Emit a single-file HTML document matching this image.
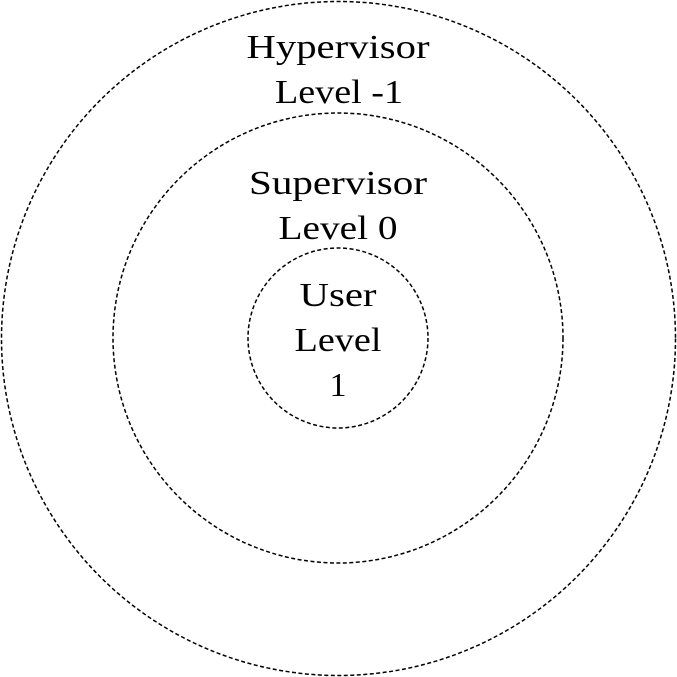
<!DOCTYPE html>
<html><head><meta charset="utf-8"><style>
html,body{margin:0;padding:0;background:#fff;width:677px;height:677px;overflow:hidden}
text{font-family:"Liberation Serif",serif;font-size:34px;fill:#000}
</style></head><body>
<svg width="677" height="677" viewBox="0 0 677 677">
<circle cx="338.5" cy="338.5" r="337" fill="none" stroke="#000" stroke-width="1.5" stroke-dasharray="4,2.5"/>
<circle cx="338" cy="338" r="225" fill="none" stroke="#000" stroke-width="1.5" stroke-dasharray="4,2.5"/>
<circle cx="338" cy="338" r="90" fill="none" stroke="#000" stroke-width="1.5" stroke-dasharray="4,2.5"/>
<g text-anchor="middle">
<text x="338" y="58" textLength="183" lengthAdjust="spacingAndGlyphs">Hypervisor</text>
<text x="339" y="103" textLength="128" lengthAdjust="spacingAndGlyphs">Level -1</text>
<text x="338" y="194" textLength="178" lengthAdjust="spacingAndGlyphs">Supervisor</text>
<text x="338" y="239" textLength="119" lengthAdjust="spacingAndGlyphs">Level 0</text>
<text x="338" y="306" textLength="77" lengthAdjust="spacingAndGlyphs">User</text>
<text x="338" y="351" textLength="87" lengthAdjust="spacingAndGlyphs">Level</text>
<text x="338" y="396">1</text>
</g>
</svg>
</body></html>
